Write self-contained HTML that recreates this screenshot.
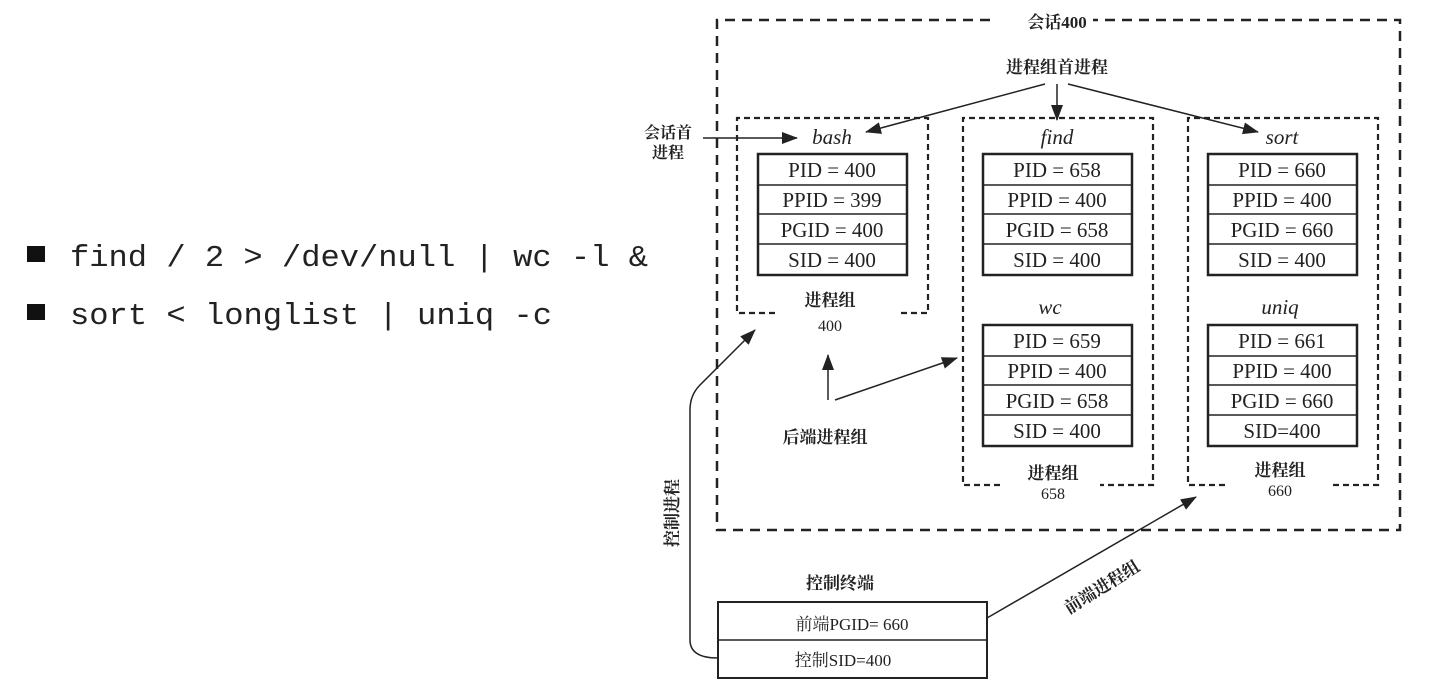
<!DOCTYPE html>
<html><head><meta charset="utf-8"><style>
html,body{margin:0;padding:0;background:#fff;width:1440px;height:699px;overflow:hidden}
svg{display:block}
.m{font-family:"Liberation Mono",monospace;font-size:31px;fill:#222}
.s{font-family:"Liberation Serif","Noto Serif CJK SC",serif;fill:#222;text-anchor:middle}
.c{font-family:"Liberation Serif","Noto Serif CJK SC","Noto Sans CJK SC",serif;fill:#222;text-anchor:middle;font-weight:bold}
</style></head><body>
<svg width="1440" height="699" viewBox="0 0 1440 699" xmlns="http://www.w3.org/2000/svg">
<defs><marker id="a" markerWidth="16" markerHeight="12" refX="15" refY="6" orient="auto" markerUnits="userSpaceOnUse"><path d="M0,0 L16,6 L0,12 Z" fill="#222"/></marker></defs>
<rect x="27" y="246" width="18" height="16" fill="#111"/>
<rect x="27" y="304" width="18" height="16" fill="#111"/>
<text class="m" x="70" y="266" textLength="578" lengthAdjust="spacingAndGlyphs">find / 2 &gt; /dev/null | wc -l &amp;</text>
<text class="m" x="70" y="324" textLength="482" lengthAdjust="spacingAndGlyphs">sort &lt; longlist | uniq -c</text>
<g fill="none" stroke="#222" stroke-width="2.5" stroke-dasharray="10,7">
<path d="M990,20 H717 V530 H1400 V20 H1093"/>
</g>
<g fill="none" stroke="#222" stroke-width="2.2" stroke-dasharray="6,4">
<path d="M775,313 H737 V118 H928 V313 H897"/>
<path d="M1000,485 H963 V118 H1153 V485 H1100"/>
<path d="M1225,485 H1188 V118 H1378 V485 H1333"/>
</g>
<text class="c" x="1057" y="28" font-size="17" font-weight="normal">会话400</text>
<text class="c" x="1057" y="73" font-size="17">进程组首进程</text>
<text class="c" x="668" y="138" font-size="16">会话首</text>
<text class="c" x="668" y="158" font-size="16">进程</text>
<g stroke="#222" stroke-width="1.5" fill="none" marker-end="url(#a)">
<line x1="1045" y1="84" x2="866" y2="132"/>
<line x1="1057" y1="84" x2="1057" y2="120"/>
<line x1="1068" y1="84" x2="1258" y2="132"/>
<line x1="703" y1="138" x2="797" y2="138"/>
<line x1="828" y1="400" x2="828" y2="355"/>
<line x1="835" y1="400" x2="957" y2="358"/>
<path d="M718,658 Q690,658 690,640 V410 Q690,395 700,385 L755,330"/>
<line x1="987" y1="618" x2="1196" y2="497"/>
</g>
<g font-style="italic">
<text class="s" x="832" y="144" font-size="21">bash</text>
<text class="s" x="1057" y="144" font-size="21">find</text>
<text class="s" x="1282" y="144" font-size="21">sort</text>
<text class="s" x="1050" y="314" font-size="21">wc</text>
<text class="s" x="1280" y="314" font-size="21">uniq</text>
</g>
<g stroke="#222" fill="none">
<rect x="758" y="154" width="149" height="121" stroke-width="2.5"/>
<path d="M758,185H907M758,214H907M758,244H907" stroke-width="1.5"/>
<rect x="983" y="154" width="149" height="121" stroke-width="2.5"/>
<path d="M983,185H1132M983,214H1132M983,244H1132" stroke-width="1.5"/>
<rect x="1208" y="154" width="149" height="121" stroke-width="2.5"/>
<path d="M1208,185H1357M1208,214H1357M1208,244H1357" stroke-width="1.5"/>
<rect x="983" y="325" width="149" height="121" stroke-width="2.5"/>
<path d="M983,356H1132M983,385H1132M983,415H1132" stroke-width="1.5"/>
<rect x="1208" y="325" width="149" height="121" stroke-width="2.5"/>
<path d="M1208,356H1357M1208,385H1357M1208,415H1357" stroke-width="1.5"/>
<rect x="718" y="602" width="269" height="76" stroke-width="2"/>
<path d="M718,640H987" stroke-width="1.5"/>
</g>
<g font-size="21">
<text class="s" x="832" y="177">PID = 400</text>
<text class="s" x="832" y="207">PPID = 399</text>
<text class="s" x="832" y="237">PGID = 400</text>
<text class="s" x="832" y="267">SID = 400</text>
<text class="s" x="1057" y="177">PID = 658</text>
<text class="s" x="1057" y="207">PPID = 400</text>
<text class="s" x="1057" y="237">PGID = 658</text>
<text class="s" x="1057" y="267">SID = 400</text>
<text class="s" x="1282" y="177">PID = 660</text>
<text class="s" x="1282" y="207">PPID = 400</text>
<text class="s" x="1282" y="237">PGID = 660</text>
<text class="s" x="1282" y="267">SID = 400</text>
<text class="s" x="1057" y="348">PID = 659</text>
<text class="s" x="1057" y="378">PPID = 400</text>
<text class="s" x="1057" y="408">PGID = 658</text>
<text class="s" x="1057" y="438">SID = 400</text>
<text class="s" x="1282" y="348">PID = 661</text>
<text class="s" x="1282" y="378">PPID = 400</text>
<text class="s" x="1282" y="408">PGID = 660</text>
<text class="s" x="1282" y="438">SID=400</text>
</g>
<text class="c" x="830" y="306" font-size="17">进程组</text>
<text class="s" x="830" y="331" font-size="16">400</text>
<text class="c" x="1053" y="479" font-size="17">进程组</text>
<text class="s" x="1053" y="499" font-size="16">658</text>
<text class="c" x="1280" y="476" font-size="17">进程组</text>
<text class="s" x="1280" y="496" font-size="16">660</text>
<text class="c" x="825" y="443" font-size="17">后端进程组</text>
<text class="c" x="840" y="589" font-size="17">控制终端</text>
<text class="s" x="852" y="630" font-size="17">前端PGID=  660</text>
<text class="s" x="843" y="666" font-size="17">控制SID=400</text>
<text class="c" font-size="17" transform="translate(678,513) rotate(-90)">控制进程</text>
<text class="c" font-size="17" transform="translate(1105,592) rotate(-32)">前端进程组</text>
</svg>
</body></html>
